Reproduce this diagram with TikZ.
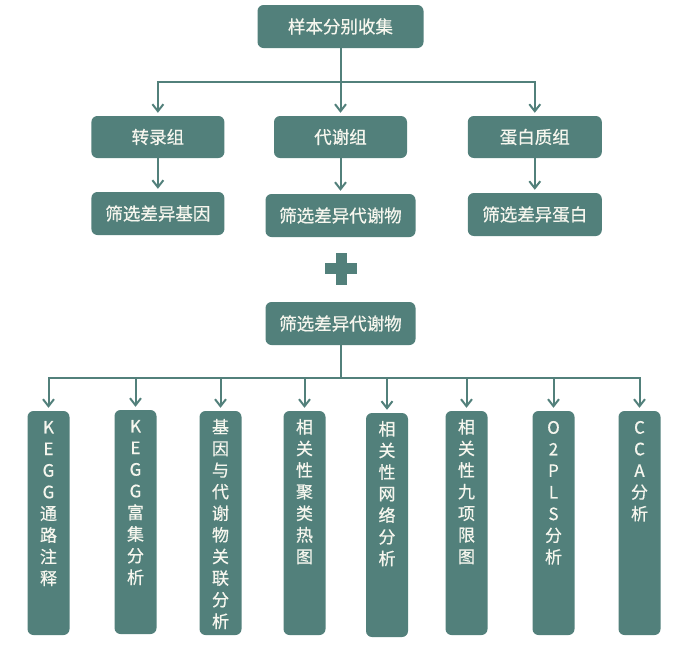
\documentclass[tikz,border=0pt]{standalone}
\usepackage{fontspec}
\setmainfont{Noto Sans CJK SC}[FakeBold=0.6]
\usetikzlibrary{arrows.meta}
\definecolor{teal1}{RGB}{82,128,123}
\definecolor{txt}{RGB}{246,246,238}
\begin{document}
\begin{tikzpicture}[x=1pt,y=-1pt,
  box/.style={draw=none,fill=teal1,rounded corners=6pt,inner sep=0pt,text=txt,font=\fontsize{17.5}{20}\selectfont},
  vbox/.style={draw=none,fill=teal1,rounded corners=6pt,inner sep=0pt,minimum width=42pt,minimum height=224pt},
  vtext/.style={anchor=north,inner sep=0pt,align=center,text=txt,font=\fontsize{17}{21.6}\selectfont},
  conn/.style={draw=teal1,line width=2pt},
  arr/.style={conn,-{Straight Barb[length=7pt,width=11pt,line width=2pt]},shorten >=3pt}]
\useasboundingbox (0,0) rectangle (686,649);
% top
\node[box,minimum width=166pt,minimum height=43pt] (top) at (340.5,26.5) {样本分别收集};
\node[box,minimum width=133pt,minimum height=42pt] (a) at (157.9,137) {转录组};
\node[box,minimum width=133pt,minimum height=42pt] (b) at (340.5,137) {代谢组};
\node[box,minimum width=134pt,minimum height=42pt] (c) at (534.8,137) {蛋白质组};
\node[box,minimum width=133pt,minimum height=43pt] (d) at (157.9,213.5) {筛选差异基因};
\node[box,minimum width=150pt,minimum height=43pt] (e) at (340.5,215.5) {筛选差异代谢物};
\node[box,minimum width=134pt,minimum height=43pt] (f) at (534.8,214.5) {筛选差异蛋白};
\coordinate (j1) at (340.5,82);
\draw[conn] (top.south) -- (j1);
\draw[arr] (j1) -| (a.north);
\draw[arr] (j1) -- (b.north);
\draw[arr] (j1) -| (c.north);
\draw[arr] (a.south) -- (d.north);
\draw[arr] (b.south) -- (e.north);
\draw[arr] (c.south) -- (f.north);
% plus
\fill[teal1] (325,263) rectangle (357,274);
\fill[teal1] (335.5,252.5) rectangle (346.5,284.5);
% middle
\node[box,minimum width=150pt,minimum height=43pt] (m) at (340.5,323.5) {筛选差异代谢物};
\coordinate (j2) at (340.5,378);
\draw[conn] (m.south) -- (j2);
% bottom boxes
\node[vbox] (b1) at (48.5,523) {};
\node[vbox] (b2) at (135.5,522) {};
\node[vbox] (b3) at (220.5,523) {};
\node[vbox] (b4) at (304.5,523) {};
\node[vbox] (b5) at (387,525) {};
\node[vbox] (b6) at (466.5,523) {};
\node[vbox] (b7) at (553.5,523) {};
\node[vbox] (b8) at (639.5,523) {};
\foreach \n in {b1,b2,b3,b4} \draw[arr] (j2) -| (\n.north);
\foreach \n in {b5,b6,b7,b8} \draw[arr] (j2) -| (\n.north);
\node[vtext] (t1) at ([yshift=-10pt]b1.north) {K\\E\\G\\G\\通\\路\\注\\释};
\node[vtext] (t2) at ([yshift=-10pt]b2.north) {K\\E\\G\\G\\富\\集\\分\\析};
\node[vtext] (t3) at ([yshift=-8pt]b3.north) {基\\因\\与\\代\\谢\\物\\关\\联\\分\\析};
\node[vtext] (t4) at ([yshift=-8pt]b4.north) {相\\关\\性\\聚\\类\\热\\图};
\node[vtext] (t5) at ([yshift=-8pt]b5.north) {相\\关\\性\\网\\络\\分\\析};
\node[vtext] (t6) at ([yshift=-8pt]b6.north) {相\\关\\性\\九\\项\\限\\图};
\node[vtext] (t7) at ([yshift=-10pt]b7.north) {O\\2\\P\\L\\S\\分\\析};
\node[vtext] (t8) at ([yshift=-10pt]b8.north) {C\\C\\A\\分\\析};
\end{tikzpicture}
\end{document}
